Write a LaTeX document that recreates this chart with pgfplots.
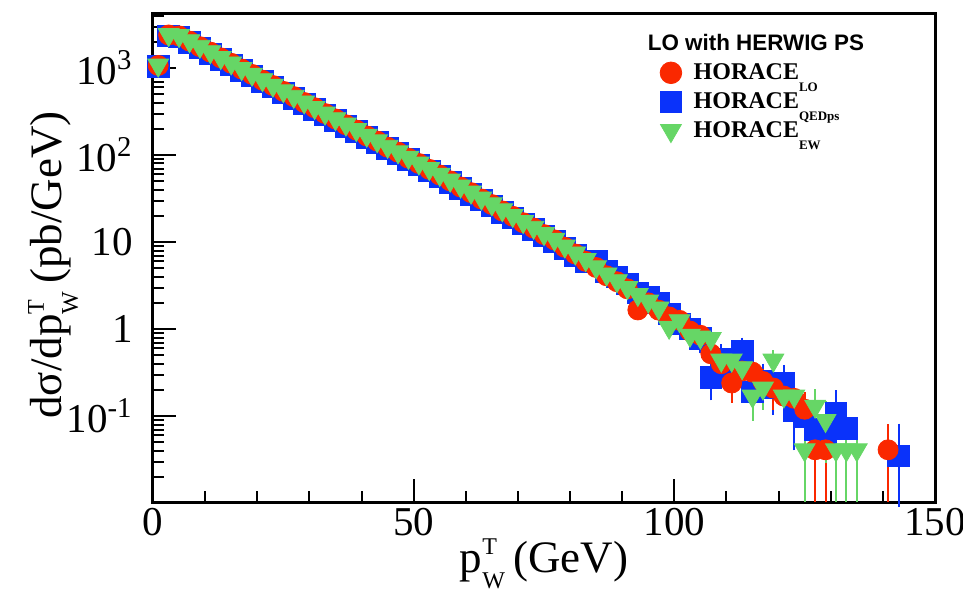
\documentclass[border=0pt]{standalone}
\usepackage{pgfplots}
\usepackage{pgfplotstable}
\pgfplotsset{compat=1.18}
\usepackage{fontspec}
\setmainfont{Liberation Serif}
\newfontfamily\arialfont{Liberation Sans}
\definecolor{rootred}{RGB}{250,40,0}
\definecolor{rootblue}{RGB}{10,50,250}
\definecolor{rootgreen}{RGB}{102,214,102}
\newcommand\pTW{p\rlap{\raisebox{9pt}{\fontsize{12}{12}\selectfont T}}\raisebox{-8pt}{\fontsize{12}{12}\selectfont W}}
\newcommand\legsub[1]{\lower6pt\hbox{\fontsize{6.5}{7}\selectfont #1}}

% LO (red circles)
\pgfplotstableread{
x y ep em
1 1070 0 0
3 2400 0 0
5 2340 0 0
7 2040 0 0
9 1760 0 0
11 1525 0 0
13 1310 0 0
15 1135 0 0
17 975 0 0
19 845 0 0
21 725 0 0
23 630 0 0
25 540 0 0
27 470 0 0
29 402 0 0
31 350 0 0
33 300 0 0
35 260 0 0
37 223 0 0
39 194 0 0
41 166 0 0
43 145 0 0
45 123 0 0
47 108 0 0
49 92 0 0
51 80 0 0
53 68.5 0 0
55 59 0 0
57 50.5 0 0
59 43 0 0
61 37 0 0
63 31.3 0 0
65 27 0 0
67 22.8 0 0
69 19.8 0 0
71 16.7 0 0
73 14.5 0 0
75 12.2 0 0
77 10.6 0 0
79 8.7 0 0
81 7.3 0 0
83 6.0 0 0
85 5.1 0 0
87 4.1 0 0
89 3.5 0 0
91 2.9 0.345 0.345
93 1.66 0.261 0.261
95 2.0 0.286 0.286
97 1.65 0.26 0.26
99 1.38 0.238 0.238
101 1.26 0.227 0.227
103 0.95 0.197 0.197
105 0.85 0.187 0.187
107 0.52 0.146 0.146
109 0.40 0.128 0.128
111 0.24 0.099 0.099
113 0.33 0.116 0.116
115 0.32 0.115 0.115
117 0.25 0.101 0.101
119 0.21 0.093 0.093
121 0.17 0.083 0.083
123 0.16 0.081 0.081
125 0.12 0.070 0.070
127 0.041 0.041 0.0307
129 0.041 0.041 0.0307
141 0.041 0.041 0.0307
}\lodata

% QEDps (blue squares)
\pgfplotstableread{
x y ep em
1 1040 0 0
3 2330 0 0
5 2270 0 0
7 1960 0 0
9 1700 0 0
11 1460 0 0
13 1260 0 0
15 1090 0 0
17 940 0 0
19 810 0 0
21 700 0 0
23 605 0 0
25 520 0 0
27 450 0 0
29 388 0 0
31 336 0 0
33 289 0 0
35 250 0 0
37 215 0 0
39 186 0 0
41 160 0 0
43 139 0 0
45 119 0 0
47 104 0 0
49 88.5 0 0
51 77 0 0
53 66 0 0
55 57 0 0
57 48.5 0 0
59 41.5 0 0
61 35.5 0 0
63 30.5 0 0
65 26 0 0
67 22 0 0
69 19 0 0
71 16.2 0 0
73 13.9 0 0
75 11.8 0 0
77 10.1 0 0
79 8.4 0 0
81 7.0 0 0
83 5.9 0 0
85 6.0 0 0
87 4.6 0 0
89 4.0 0 0
91 3.3 0.37 0.37
93 2.6 0.33 0.33
95 2.3 0.31 0.31
97 2.0 0.286 0.286
99 1.5 0.248 0.248
101 1.15 0.217 0.217
103 1.0 0.202 0.202
105 0.78 0.179 0.179
107 0.28 0.107 0.107
109 0.45 0.136 0.136
111 0.33 0.116 0.116
113 0.55 0.150 0.150
115 0.19 0.088 0.088
117 0.25 0.101 0.101
119 0.21 0.093 0.093
121 0.24 0.099 0.099
123 0.115 0.069 0.069
125 0.10 0.064 0.064
127 0.07 0.054 0.054
129 0.06 0.050 0.045
131 0.107 0.066 0.066
133 0.072 0.054 0.054
143 0.035 0.037 0.0247
}\qeddata

% EW (green triangles)
\pgfplotstableread{
x y ep em
1 1080 0 0
3 2420 0 0
5 2360 0 0
7 2060 0 0
9 1780 0 0
11 1540 0 0
13 1320 0 0
15 1145 0 0
17 985 0 0
19 850 0 0
21 735 0 0
23 635 0 0
25 548 0 0
27 473 0 0
29 408 0 0
31 352 0 0
33 304 0 0
35 262 0 0
37 227 0 0
39 196 0 0
41 169 0 0
43 146 0 0
45 126 0 0
47 109 0 0
49 94 0 0
51 81 0 0
53 70 0 0
55 60 0 0
57 51.5 0 0
59 44 0 0
61 37.5 0 0
63 32 0 0
65 27.5 0 0
67 23.5 0 0
69 20.2 0 0
71 17.2 0 0
73 14.8 0 0
75 12.5 0 0
77 10.8 0 0
79 9.0 0 0
81 7.5 0 0
83 6.3 0 0
85 5.2 0 0
87 4.3 0 0
89 3.6 0 0
91 3.0 0.35 0.35
93 2.5 0.32 0.32
95 2.1 0.293 0.293
97 1.75 0.268 0.268
99 1.05 0.207 0.207
101 1.25 0.226 0.226
103 0.85 0.187 0.187
105 0.81 0.182 0.182
107 0.78 0.179 0.179
109 0.44 0.134 0.134
111 0.44 0.134 0.134
113 0.36 0.121 0.121
115 0.17 0.083 0.083
117 0.21 0.093 0.093
119 0.44 0.134 0.134
121 0.17 0.083 0.083
123 0.17 0.083 0.083
125 0.041 0.041 0.0307
127 0.13 0.073 0.073
129 0.089 0.060 0.060
131 0.041 0.041 0.0307
133 0.041 0.041 0.0307
135 0.041 0.041 0.0307
}\ewdata

\begin{document}
\begin{tikzpicture}
\path[use as bounding box] (-76.5pt,-44.5pt) rectangle (405pt,251pt);
\begin{axis}[
  at={(0,0)}, anchor=south west,
  scale only axis, width=391pt, height=244.5pt,
  xmin=0, xmax=150, ymode=log, ymin=0.0103, ymax=4290,
  clip=false,
  axis line style={line width=1.5pt},
  every tick/.style={black, line width=1pt},
  tick align=inside,
  xtick pos=left, ytick pos=left,
  xtick={0,50,100,150}, xticklabels={0,50,100,150},
  minor xtick={10,20,30,40,60,70,80,90,110,120,130,140},
  ytick={0.1,1,10,100,1000},
  yticklabels={10\textsuperscript{-1},1,10,10\textsuperscript{2},10\textsuperscript{3}},
  minor ytick={0.02,0.03,0.04,0.05,0.06,0.07,0.08,0.09,0.2,0.3,0.4,0.5,0.6,0.7,0.8,0.9,2,3,4,5,6,7,8,9,20,30,40,50,60,70,80,90,200,300,400,500,600,700,800,900,2000,3000,4000},
  major tick length=11.5pt, minor tick length=5.5pt,
  tick label style={font=\fontsize{20.5}{24}\selectfont},
  xticklabel style={inner sep=0pt, yshift=-3pt},
  yticklabel style={inner sep=0pt, xshift=-10pt},
  xlabel={\pTW\hspace{4pt}(GeV)},
  ylabel={dσ/d\pTW\hspace{4pt}(pb/GeV)},
  label style={font=\fontsize{22.5}{26}\selectfont},
  xlabel style={at={(axis description cs:0.5,-0.145)}, anchor=base},
  ylabel style={at={(axis description cs:-0.1164,0.485)}, anchor=base},
  legend style={at={(rel axis cs:0.648,0.906)}, anchor=north west, draw=none, fill=none,
    font=\fontsize{12}{14}\selectfont\bfseries, row sep=1pt, inner sep=0pt,
    /tikz/every odd column/.append style={column sep=4pt}},
  legend cell align=left,
]
\addplot[forget plot, only marks, mark=square*, color=rootblue, mark size=5.4pt,
  error bars/.cd, y dir=both, y explicit,
  error bar style={line width=1pt, rootblue},
  error mark options={rootblue, mark size=2.5pt, line width=1pt}]
  table[x=x, y=y, y error plus=ep, y error minus=em] {\qeddata};
\addplot[forget plot, only marks, mark=*, color=rootred, mark size=5pt,
  error bars/.cd, y dir=both, y explicit,
  error bar style={line width=1pt, rootred}, error mark=none]
  table[x=x, y=y, y error plus=ep, y error minus=em] {\lodata};
\addplot[forget plot, only marks, mark=triangle*, mark options={rotate=180}, color=rootgreen, mark size=6pt,
  error bars/.cd, y dir=both, y explicit,
  error bar style={line width=1pt, rootgreen}, error mark=none]
  table[x=x, y=y, y error plus=ep, y error minus=em] {\ewdata};
\addlegendimage{only marks, mark=*, color=rootred, mark size=5.4pt}
\addlegendentry{HORACE\legsub{LO}}
\addlegendimage{only marks, mark=square*, color=rootblue, mark size=5.4pt}
\addlegendentry{HORACE\legsub{QEDps}}
\addlegendimage{only marks, mark=triangle*, mark options={rotate=180}, color=rootgreen, mark size=6pt}
\addlegendentry{HORACE\legsub{EW}}
\node[font=\arialfont\bfseries\fontsize{11.2}{13}\selectfont, anchor=center] at (rel axis cs:0.771,0.939) {LO with HERWIG PS};
\end{axis}
\end{tikzpicture}
\end{document}
